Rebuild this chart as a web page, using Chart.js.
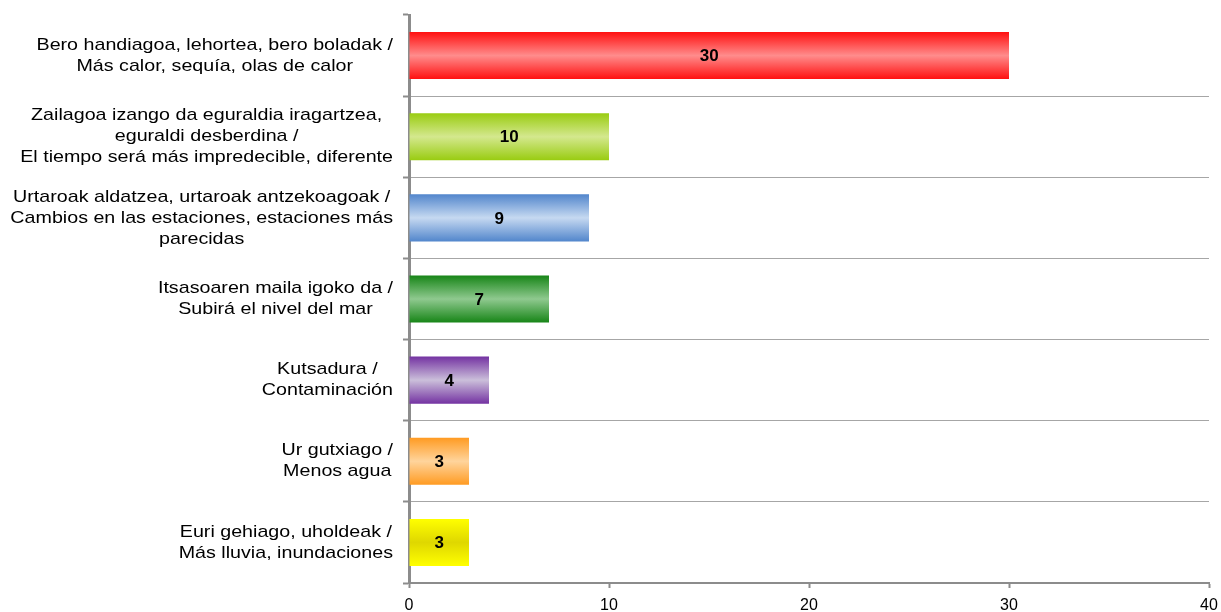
<!DOCTYPE html>
<html>
<head>
<meta charset="utf-8">
<script src="https://cdn.jsdelivr.net/npm/chart.js@4.4.0/dist/chart.umd.min.js"></script>
<style>
    html, body { margin: 0; padding: 0; background: #fff; }
    #wrap { width: 1221px; height: 612px; }
</style>
</head>
<body>
<div id="wrap"><canvas id="chart"></canvas></div>
<script>
// Data
const categories = [
    ['Bero handiagoa, lehortea, bero boladak /', 'Más calor, sequía, olas de calor'],
    ['Zailagoa izango da eguraldia iragartzea,', 'eguraldi desberdina /', 'El tiempo será más impredecible, diferente'],
    ['Urtaroak aldatzea, urtaroak antzekoagoak /', 'Cambios en las estaciones, estaciones más', 'parecidas'],
    ['Itsasoaren maila igoko da /', 'Subirá el nivel del mar'],
    ['Kutsadura /', 'Contaminación'],
    ['Ur gutxiago /', 'Menos agua'],
    ['Euri gehiago, uholdeak /', 'Más lluvia, inundaciones']
];
const values = [30, 10, 9, 7, 4, 3, 3];
const xTicks = [0, 10, 20, 30, 40];

// Bar colours: [edge, middle]
const edgeColors = ['#ff1010', '#99cc11', '#5286cc', '#178517', '#7433a2', '#ff9b22', '#ffff00'];
const midColors = ['#ff8c8c', '#d4e88e', '#c6d9f1', '#8fc98f', '#cbbfda', '#ffd49c', '#dfd700'];

const FONT = "'Liberation Sans', Arial, sans-serif";
const BAR_PCT = 0.58;
const LABEL_STRETCH = 1.157; // category text in the original is a bit wider

// Gradient for each bar (dark edges, light middle)
function barGradient(context) {
    const chart = context.chart;
    const y = chart.scales.y;
    const i = context.dataIndex;
    if (!chart.chartArea || !y || i === undefined) return edgeColors[i] || '#999';
    const band = (y.bottom - y.top) / categories.length;
    const center = y.getPixelForValue(i);
    const half = band * BAR_PCT / 2;
    const g = chart.ctx.createLinearGradient(0, center - half, 0, center + half);
    g.addColorStop(0, edgeColors[i]);
    g.addColorStop(0.5, midColors[i]);
    g.addColorStop(1, edgeColors[i]);
    return g;
}

// Draw category labels: block right-aligned, lines centred inside block
const labelPlugin = {
    id: 'labelPlugin',
    afterDraw(chart) {
        const ctx = chart.ctx;
        const y = chart.scales.y;
        ctx.save();
        ctx.font = '17px ' + FONT;
        ctx.fillStyle = '#000';
        ctx.textAlign = 'center';
        ctx.textBaseline = 'middle';
        const right = 393;
        const lineH = 21;
        categories.forEach((lines, i) => {
            const maxW = Math.max(...lines.map(l => ctx.measureText(l).width)) * LABEL_STRETCH;
            const cx = right - maxW / 2;
            const cy = y.getPixelForValue(i);
            const top = cy - (lines.length - 1) * lineH / 2;
            lines.forEach((l, k) => {
                ctx.save();
                ctx.translate(cx, top + k * lineH);
                ctx.scale(LABEL_STRETCH, 1);
                ctx.fillText(l, 0, 0);
                ctx.restore();
            });
        });
        ctx.restore();
    }
};

// Value labels inside bars
const valuePlugin = {
    id: 'valuePlugin',
    afterDatasetsDraw(chart) {
        const ctx = chart.ctx;
        const meta = chart.getDatasetMeta(0);
        ctx.save();
        ctx.font = 'bold 17px ' + FONT;
        ctx.fillStyle = '#000';
        ctx.textAlign = 'center';
        ctx.textBaseline = 'middle';
        meta.data.forEach((bar, i) => {
            const x = (bar.x + bar.base) / 2;
            ctx.fillText(String(values[i]), x, bar.y + 1);
        });
        ctx.restore();
    }
};

new Chart(document.getElementById('chart'), {
    type: 'bar',
    data: {
        labels: categories,
        datasets: [{
            data: values,
            backgroundColor: barGradient,
            borderWidth: 0,
            categoryPercentage: 1,
            barPercentage: BAR_PCT
        }]
    },
    options: {
        indexAxis: 'y',
        responsive: true,
        maintainAspectRatio: false,
        animation: false,
        layout: { padding: { top: 15, right: 12, bottom: 0, left: 0 } },
        plugins: {
            legend: { display: false },
            tooltip: { enabled: false }
        },
        scales: {
            x: {
                min: 0,
                max: 40,
                afterBuildTicks: scale => { scale.ticks = xTicks.map(v => ({ value: v })); },
                afterFit: scale => {
                    scale.height = 29;
                    scale.paddingLeft = 0;
                    scale.paddingRight = 0;
                },
                grid: {
                    drawOnChartArea: false,
                    drawTicks: true,
                    tickLength: 5,
                    tickColor: '#8c8c8c',
                    tickWidth: 2
                },
                border: { color: '#8c8c8c', width: 2 },
                ticks: {
                    color: '#000',
                    font: { family: FONT, size: 16 },
                    padding: 8,
                    maxRotation: 0
                }
            },
            y: {
                afterFit: scale => { scale.width = 409; },
                grid: {
                    offset: true,
                    color: c => c.index === 0 ? 'rgba(0,0,0,0)' : '#a6a6a6',
                    lineWidth: 1,
                    tickLength: 6,
                    tickColor: '#8c8c8c',
                    tickWidth: 2
                },
                border: { color: '#8c8c8c', width: 3 },
                ticks: {
                    callback: () => '',
                    font: { family: FONT, size: 17 }
                }
            }
        }
    },
    plugins: [labelPlugin, valuePlugin]
});
</script>
</body>
</html>
